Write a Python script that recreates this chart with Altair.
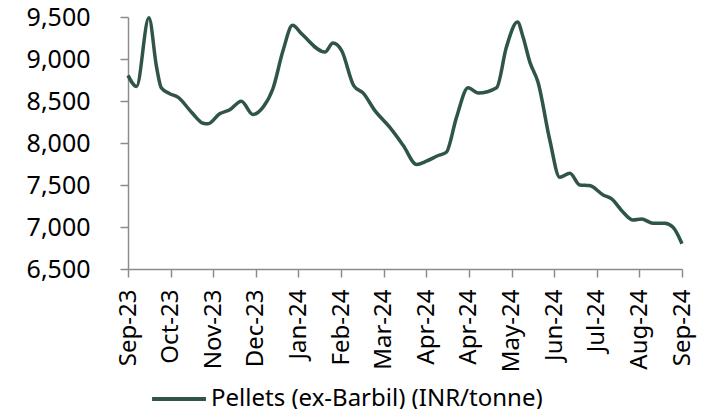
import altair as alt
import pandas as pd

tick_labels = ["Sep-23", "Oct-23", "Nov-23", "Dec-23", "Jan-24", "Feb-24", "Mar-24",
               "Apr-24", "Apr-24", "May-24", "Jun-24", "Jul-24", "Aug-24", "Sep-24"]

# position along the axis (in tick intervals) and price
pos = [0.0, 0.2, 0.49, 0.67, 0.78, 0.98, 1.17, 1.49, 1.76, 1.88, 2.15, 2.39, 2.66, 2.93,
       3.17, 3.40, 3.64, 3.86, 4.07, 4.62, 4.81, 5.01, 5.30, 5.52, 5.79, 6.14, 6.46, 6.77,
       7.00, 7.28, 7.47, 7.71, 7.98, 8.22, 8.65, 8.88, 9.14, 9.27, 9.43, 9.62, 9.90, 10.13,
       10.37, 10.60, 10.83, 11.15, 11.35, 11.62, 11.85, 12.05, 12.32, 12.60, 12.79, 13.0]
price = [8805, 8674, 9490, 8904, 8658, 8587, 8546, 8367, 8236, 8229, 8348, 8396, 8498, 8340,
         8427, 8646, 9103, 9401, 9302, 9083, 9190, 9103, 8680, 8594, 8388, 8188, 7970, 7744,
         7783, 7851, 7890, 8308, 8658, 8594, 8658, 9142, 9440, 9262, 8963, 8725, 8030, 7592,
         7640, 7501, 7493, 7382, 7334, 7175, 7084, 7096, 7044, 7044, 6996, 6800]

series = "Pellets (ex-Barbil) (INR/tonne)"
df = pd.DataFrame({"pos": pos, "price": price, "series": series})

label_js = "[" + ",".join("'" + t + "'" for t in tick_labels) + "]"
FONT = "Noto Sans"

chart = alt.Chart(df).mark_line(interpolate="monotone", strokeWidth=3.5).encode(
    x=alt.X("pos:Q", scale=alt.Scale(domain=[0, 13], nice=False, zero=False),
            axis=alt.Axis(values=list(range(14)), labelExpr=label_js + "[datum.value]",
                          labelAngle=-90, title=None, grid=False, domainColor="#8c8c8c",
                          tickColor="#8c8c8c", tickSize=8, tickWidth=1.5, domainWidth=1.5,
                          labelFontSize=24, labelFont=FONT, labelColor="#000000",
                          labelPadding=12, labelOverlap=False)),
    y=alt.Y("price:Q", scale=alt.Scale(domain=[6500, 9500], nice=False, zero=False),
            axis=alt.Axis(values=[6500, 7000, 7500, 8000, 8500, 9000, 9500], format=",.0f",
                          title=None, grid=False, domainColor="#8c8c8c",
                          tickColor="#8c8c8c", tickSize=8, tickWidth=1.5, domainWidth=1.5,
                          labelFontSize=25, labelFont=FONT, labelColor="#000000",
                          labelPadding=30, labelOverlap=False)),
    color=alt.Color("series:N", scale=alt.Scale(range=["#2f5546"]),
                    legend=alt.Legend(title=None, orient="none", legendX=22, legendY=353,
                                      symbolType="stroke", symbolSize=2900,
                                      symbolStrokeWidth=4, labelFontSize=24, labelOffset=3,
                                      labelLimit=0,
                                      labelFont=FONT, labelColor="#000000")),
).properties(
    width=554, height=252,
    autosize=alt.AutoSizeParams(type="none"),
    padding={"left": 120, "top": 9, "right": 20, "bottom": 140},
).configure_view(stroke=None)

chart.save("out.html", embed_options={"renderer": "svg", "actions": False})
